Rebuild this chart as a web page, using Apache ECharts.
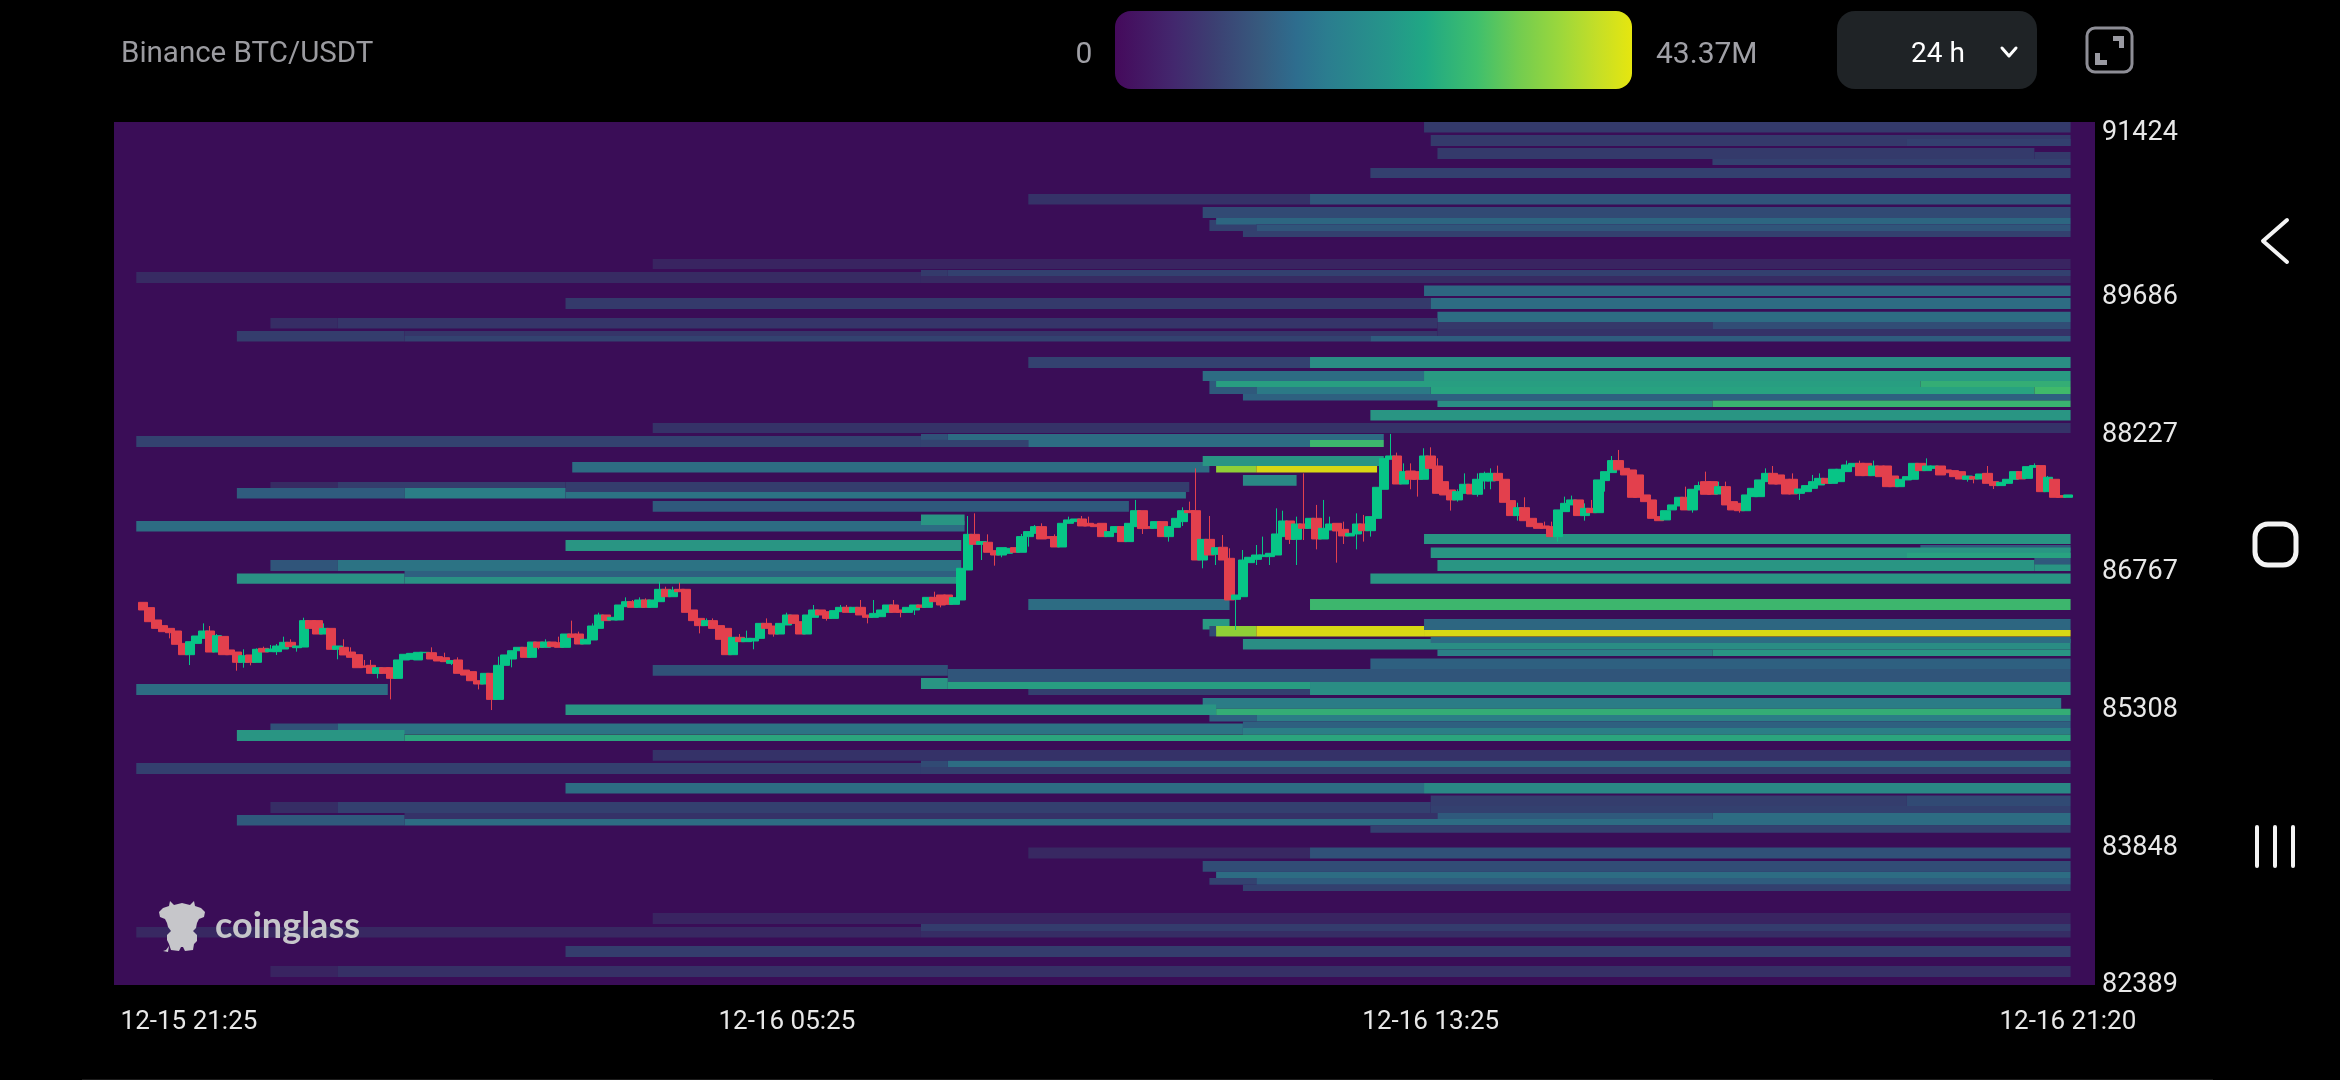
<!DOCTYPE html>
<html>
<head>
<meta charset="utf-8">
<title>Binance BTC/USDT</title>
<style>
html,body{margin:0;padding:0;background:#000;}
#chart{width:2340px;height:1080px;}
</style>
<script src="https://cdn.jsdelivr.net/npm/echarts@6/dist/echarts.min.js"></script>
</head>
<body>
<div id="chart"></div>
<script>
var exchangeName = 'Binance BTC/USDT';
var heatMin = 0, heatMax = 43.37;
var heatMaxLabel = '43.37M';
var rangeLabel = '24 h';
var priceTicks = [82389, 83848, 85308, 86767, 88227, 89686, 91424];
var timeTicks = [0, 96, 192, 287];
var timeLabels = ['12-15 21:25', '12-16 05:25', '12-16 13:25', '12-16 21:20'];
var heatColors = ['#430a5b','#372a63','#33406f','#2e6080','#2b7b86','#2a9084','#28a280','#42bb68','#78c944','#b0d825','#e2d810'];
var barOffsets = [0, 0.115, 0.19, 0.28, 0.35, 0.41, 0.53, 0.6, 0.7, 0.78, 0.86, 0.93, 1];
var barColors = ['#450a5c','#43286e','#3c3f72','#375a7e','#2e6d8e','#2b7d8f','#25968a','#20a884','#3fbf6d','#72cc50','#9bd73c','#c3de28','#e6e60f'];
var E = 287.4; // last candle edge

// price top, price bottom, from candle, to candle, liquidation (M)
var heatLevels = [
	[91509,91398,191,E,7.4],[91371,91255,192,E,7.4],[91329,91255,263,E,8.7],[91233,91117,193,282,7.4],[91190,91117,282,E,7.4],
	[91117,91053,234,E,8.7],[91021,90915,183,E,8.7],
	[90746,90634,132,174,6],[90746,90634,174,E,11.5],[90608,90491,158,E,10],[90470,90353,159,166,8.7],[90491,90422,160,E,14],
	[90422,90353,166,E,11.5],[90353,90290,164,E,8.7],
	[90056,89950,76,E,3.5],[89918,89802,-1,116,4.5],[89876,89802,116,E,4.5],[89940,89876,116,120,7.4],[89940,89876,120,E,8.7],
	[89775,89664,191,E,14],[89643,89526,63,192,7.4],[89643,89526,192,E,15],[89498,89388,193,E,15],
	[89431,89319,19,29,5],[89431,89319,29,193,6.5],[89388,89314,193,234,7],[89388,89314,234,E,10.5],[89314,89240,193,E,6],
	[89293,89180,14,39,8],[89293,89240,39,193,6.5],[89240,89180,39,183,9],[89240,89180,183,E,12.5],
	[89017,88900,132,174,9],[89017,88900,174,E,21],[88869,88762,158,191,15],[88869,88762,191,E,24],
	[88762,88625,159,166,12],[88762,88699,160,265,25],[88762,88699,265,E,28],[88699,88625,166,192,17],[88699,88625,192,282,26],[88699,88625,282,E,30],
	[88625,88556,164,E,13],[88556,88487,193,234,21],[88556,88487,234,E,29],[88455,88344,183,E,23],
	[88317,88211,76,E,6],[88179,88063,-1,116,9],[88137,88063,116,132,9],[88200,88137,116,120,11],[88200,88137,120,185,15],
	[88137,88063,132,174,15],[88137,88063,174,185,29.5],
	[87904,87792,64,159,15],[87967,87861,158,185,23],[87861,87792,160,166,36.5],[87861,87792,166,184,42.5],[87766,87652,164,172,20],
	[87691,87628,19,29,4.5],[87691,87628,29,63,8],[87691,87585,63,156,8],[87628,87515,14,39,12.5],[87628,87515,39,63,18],[87585,87515,63,155.5,16],
	[87490,87376,76,147,12],[87278,87166,-1,122.5,15],[87347,87236,116,122.5,23],
	[87140,87034,191,E,23],[87023,86959,265,E,12],[87076,86959,63,122,23],[86996,86885,192,E,23],[86940,86885,263,E,26],
	[86885,86820,282,E,12],[86864,86748,193,282,23],[86820,86748,282,E,23],
	[86864,86748,19,29,11.5],[86864,86748,29,122,16],[86748,86684,39,122,13],[86722,86613,14,39,22],[86684,86613,39,121.5,22],[86722,86613,183,E,23],
	[86451,86334,132,162,15],[86451,86334,174,E,29.5],
	[86239,86127,158,162,24],[86239,86122,191,E,14],[86164,86054,159,160,10],[86164,86054,160,166,36.5],[86164,86054,166,191,42.5],[86122,86054,191,E,42.5],
	[86027,85915,164,E,21],[86047,85984,192,E,15],[85915,85846,193,234,18],[85915,85846,234,E,23],[85820,85708,183,E,13],
	[85751,85637,76,120,11],[85708,85570,120,E,11.5],[85613,85496,116,120,23],[85570,85496,120,174,25],[85570,85496,174,E,21],
	[85549,85433,-1,36.5,15],[85496,85433,132,174,8.7],[85496,85433,174,E,21],
	[85401,85286,158,286,17.5],[85331,85220,63,160,23],[85286,85220,160,E,28],[85220,85151,159,166,13],[85220,85151,166,E,18],
	[85151,85083,164,E,13],[85130,85019,19,29,11],[85130,85019,29,164,16],[85083,85014,164,E,18],[85062,84945,14,39,23],[85014,84945,39,E,26.5],
	[84849,84736,76,E,6],[84736,84669,116,120,10],[84736,84669,120,E,15],[84711,84595,-1,116,8.7],[84669,84595,116,E,8.7],
	[84499,84389,63,191,15],[84499,84389,191,E,20],[84367,84255,192,263,8],[84367,84255,263,E,10],
	[84298,84181,19,29,5],[84298,84181,29,192,8.7],[84255,84181,192,E,8.7],[84181,84117,39,193,6],[84181,84117,193,234,12],[84181,84117,234,E,15],
	[84160,84049,14,39,12],[84117,84049,39,E,15],[84049,83972,183,E,8.7],
	[83815,83699,132,174,4],[83815,83699,174,E,11],[83672,83559,158,E,10.5],[83559,83492,160,E,15],
	[83492,83421,159,166,9],[83492,83421,166,E,12.5],[83421,83354,164,E,8.7],
	[83120,83004,76,E,3.5],[83004,82930,116,E,7.8],[82972,82862,-1,116,4],[82930,82862,116,E,5],[82771,82654,63,E,8],
	[82558,82442,19,29,3.5],[82558,82442,29,E,5.5]
];

// open, close, low, high, one row per 5 min candle
var candles = [
	[86415,86334,86334,86415],[86359,86210,86210,86359],[86228,86139,86139,86228],[86168,86104,86104,86168],[86139,86093,86033,86139],[86111,85970,85970,86111],
	[85980,85860,85860,85980],[85860,85998,85750,85998],[85980,86058,85980,86058],[86033,86111,86033,86192],[86111,85888,85888,86164],[85888,86062,85888,86079],
	[86054,85860,85860,86054],[85910,85860,85860,85910],[85888,85779,85690,85888],[85779,85849,85722,85917],[85857,85779,85747,85857],[85779,85917,85779,85927],
	[85927,85888,85888,85945],[85892,85920,85892,85963],[85892,85952,85857,85973],[85920,85991,85920,86051],[85991,85945,85945,86023],[85934,85952,85892,85952],
	[85941,86221,85941,86252],[86221,86139,86139,86221],[86221,86079,86079,86221],[86079,86139,86079,86192],[86139,85917,85917,86139],[85917,85952,85811,85952],
	[85938,85857,85857,86023],[85888,85832,85832,85938],[85860,85722,85722,85860],[85740,85726,85726,85804],[85747,85662,85662,85804],[85662,85722,85609,85722],
	[85722,85662,85662,85722],[85722,85609,85386,85722],[85609,85804,85609,85804],[85804,85864,85804,85864],[85811,85874,85811,85874],[85804,85885,85804,85885],
	[85881,85885,85881,85885],[85881,85814,85814,85938],[85839,85793,85793,85839],[85828,85786,85786,85881],[85768,85797,85750,85797],[85804,85662,85662,85832],
	[85697,85644,85644,85697],[85680,85584,85584,85680],[85584,85549,85492,85584],[85549,85662,85549,85662],[85662,85386,85273,85662],[85386,85747,85386,85839],
	[85747,85857,85747,85857],[85814,85902,85726,85902],[85902,85938,85902,85938],[85938,85832,85832,85938],[85832,85994,85832,85994],[85994,85938,85917,85994],
	[85938,85994,85938,86023],[85994,85945,85945,85994],[85987,85938,85938,86051],[85938,86079,85938,86079],[86079,86044,86044,86221],[86079,85973,85973,86104],
	[85973,86023,85973,86023],[86016,86164,86016,86192],[86139,86281,86139,86305],[86281,86221,86221,86281],[86228,86256,86228,86256],[86228,86387,86228,86387],
	[86369,86422,86369,86468],[86422,86362,86362,86440],[86362,86440,86362,86468],[86440,86362,86362,86457],[86362,86440,86362,86440],[86422,86553,86422,86634],
	[86553,86475,86475,86581],[86475,86546,86475,86581],[86553,86528,86528,86624],[86553,86309,86309,86553],[86334,86221,86221,86334],[86245,86168,86086,86245],
	[86168,86221,86168,86245],[86221,86139,86139,86245],[86168,86023,86023,86168],[86139,85860,85860,86139],[85860,86044,85860,86044],[86044,85998,85998,86079],
	[85998,86033,85998,86115],[86005,86033,85917,86033],[86033,86192,86033,86192],[86192,86139,86139,86245],[86164,86079,86051,86164],[86079,86192,86079,86192],
	[86175,86281,86175,86305],[86281,86192,86192,86281],[86210,86079,86079,86210],[86079,86281,86079,86281],[86256,86334,86256,86387],[86334,86281,86281,86334],
	[86316,86245,86221,86316],[86245,86327,86245,86327],[86316,86362,86316,86387],[86362,86309,86309,86387],[86309,86362,86309,86362],[86362,86281,86281,86440],
	[86281,86256,86192,86281],[86256,86298,86256,86440],[86263,86334,86263,86334],[86309,86387,86309,86387],[86387,86309,86309,86440],[86334,86309,86256,86334],
	[86309,86362,86309,86362],[86334,86387,86281,86387],[86387,86362,86362,86387],[86362,86468,86362,86468],[86468,86422,86422,86528],[86493,86387,86362,86493],
	[86493,86394,86394,86493],[86394,86465,86394,86465],[86440,86776,86440,86776],[86758,87136,86758,87331],[87136,87030,87030,87359],[87030,87059,86864,87059],
	[87052,86946,86946,87136],[86963,86917,86804,86963],[86917,86995,86893,86995],[86935,86988,86935,86988],[86995,86946,86946,86995],[86946,87112,86946,87140],
	[87112,87165,87006,87165],[87147,87218,87147,87235],[87218,87087,87087,87253],[87112,87094,87094,87112],[87112,87002,87002,87136],[87002,87253,87002,87253],
	[87253,87289,87253,87324],[87271,87299,87271,87299],[87299,87225,87225,87331],[87253,87225,87225,87324],[87243,87218,87218,87243],[87253,87112,87112,87253],
	[87112,87165,87112,87165],[87158,87218,87158,87218],[87218,87059,87059,87218],[87059,87253,87059,87253],[87218,87387,87218,87501],[87387,87197,87140,87387],
	[87218,87200,87200,87218],[87200,87271,87200,87271],[87271,87112,87112,87271],[87112,87218,87059,87218],[87211,87306,87211,87306],[87271,87387,87225,87423],
	[87387,87366,87366,87483],[87387,86864,86864,87836],[86864,87083,86776,87083],[87083,86917,86917,87331],[86924,86995,86811,86995],[86999,86864,86864,87129],
	[86882,86440,86440,86988],[86447,86493,86122,86493],[86475,86864,86475,86970],[86836,86893,86836,86893],[86871,86917,86811,87023],[86900,86917,86900,87112],
	[86900,86935,86811,86935],[86917,87140,86917,87412],[87112,87278,87112,87387],[87278,87083,87034,87278],[87083,87246,86811,87324],[87246,87200,87076,87783],
	[87200,87306,87200,87306],[87306,87087,86977,87448],[87087,87200,87087,87501],[87182,87246,87182,87324],[87253,87172,86836,87253],[87189,87119,87034,87271],
	[87119,87147,87119,87147],[87140,87246,86977,87359],[87246,87175,87059,87342],[87175,87324,87112,87324],[87306,87635,87306,87635],[87614,87942,87614,87942],
	[87932,87967,87932,88201],[87967,87670,87670,88003],[87670,87801,87670,87889],[87808,87720,87614,87889],[87801,87720,87536,87801],[87720,87967,87720,88049],
	[87967,87836,87836,88059],[87861,87571,87571,87943],[87695,87554,87554,87695],[87607,87501,87388,87607],[87501,87589,87483,87614],[87571,87667,87571,87783],
	[87667,87564,87564,87667],[87561,87720,87536,87783],[87702,87783,87614,87801],[87702,87783,87614,87836],[87783,87706,87706,87865],[87720,87476,87476,87720],
	[87494,87335,87335,87494],[87335,87419,87281,87472],[87419,87281,87281,87529],[87306,87218,87218,87306],[87253,87200,87200,87253],[87225,87200,87200,87271],
	[87218,87112,87112,87271],[87112,87395,87059,87395],[87377,87465,87377,87536],[87448,87501,87448,87547],[87501,87335,87335,87501],[87335,87412,87281,87465],
	[87412,87366,87366,87501],[87366,87713,87366,87713],[87706,87801,87589,87801],[87791,87918,87791,87967],[87918,87820,87820,88031],[87836,87766,87766,87836],
	[87819,87529,87529,87819],[87766,87529,87529,87766],[87554,87483,87483,87554],[87501,87306,87306,87501],[87324,87281,87281,87324],[87289,87387,87289,87387],
	[87395,87448,87395,87448],[87437,87529,87437,87529],[87529,87395,87395,87642],[87395,87614,87366,87614],[87607,87653,87607,87695],[87695,87561,87561,87801],
	[87695,87561,87561,87695],[87564,87642,87564,87695],[87642,87448,87448,87695],[87483,87395,87395,87483],[87465,87387,87366,87465],[87387,87554,87387,87554],
	[87536,87624,87536,87624],[87536,87713,87536,87713],[87695,87783,87695,87836],[87783,87670,87670,87861],[87766,87670,87670,87766],[87720,87564,87564,87720],
	[87720,87564,87564,87783],[87571,87617,87501,87617],[87589,87653,87589,87653],[87624,87695,87624,87766],[87660,87730,87660,87783],[87730,87677,87677,87730],
	[87677,87826,87677,87826],[87695,87826,87695,87826],[87801,87872,87801,87918],[87854,87889,87854,87889],[87889,87759,87759,87918],[87889,87759,87759,87889],
	[87759,87861,87759,87918],[87861,87748,87748,87861],[87861,87642,87642,87861],[87755,87642,87642,87755],[87642,87720,87642,87720],[87713,87748,87713,87748],
	[87720,87889,87720,87889],[87889,87812,87812,87889],[87812,87861,87812,87942],[87836,87861,87836,87861],[87861,87766,87766,87861],[87819,87790,87790,87819],
	[87812,87748,87748,87812],[87801,87723,87723,87801],[87720,87755,87695,87755],[87748,87723,87677,87748],[87723,87776,87723,87776],[87783,87677,87677,87861],
	[87695,87653,87617,87695],[87653,87688,87653,87688],[87677,87720,87677,87720],[87720,87801,87720,87801],[87801,87723,87723,87801],[87730,87854,87730,87854],
	[87847,87865,87847,87889],[87865,87589,87589,87865],[87589,87741,87589,87755],[87720,87529,87529,87720],[87547,87529,87529,87547],[87529,87554,87529,87554]
];

var chart = echarts.init(document.getElementById('chart'));
var labelFont = 'Roboto';

var barStops = barColors.map(function(c, i){
	return {offset: barOffsets[i], color: c};
});

function headerText(x, y, text, color, size, align){
	return {
		type: 'text', x: x, y: y, silent: true,
		style: {text: text, fill: color, fontFamily: labelFont, fontSize: size, align: align || 'left', verticalAlign: 'middle'}
	};
}
function strokeLine(points, color, width){
	return {type: 'polyline', silent: true, shape: {points: points}, style: {stroke: color, lineWidth: width, fill: null, lineCap: 'round', lineJoin: 'round'}};
}

var graphicItems = [
	headerText(121, 55, exchangeName, '#9b9ba0', 29.5),
	headerText(1084, 55, String(heatMin), '#a0a0a6', 30, 'center'),
	{type: 'rect', silent: true, shape: {x: 1115, y: 11, width: 517, height: 78, r: 16},
		style: {fill: {type: 'linear', x: 0, y: 0, x2: 1, y2: 0, colorStops: barStops}}},
	headerText(1656, 55, heatMaxLabel, '#a0a0a6', 30),
	{type: 'rect', silent: true, shape: {x: 1837, y: 11, width: 200, height: 78, r: 18}, style: {fill: '#1f2326'}},
	headerText(1911, 55, rangeLabel, '#ffffff', 28),
	strokeLine([[2002, 48], [2009, 56], [2016, 48]], '#ffffff', 3),
	// fullscreen button
	{type: 'rect', silent: true, shape: {x: 2087, y: 28, width: 45, height: 44, r: 8}, style: {fill: null, stroke: '#8e8e96', lineWidth: 3}},
	{type: 'polygon', silent: true, shape: {points: [[2113, 36], [2124, 36], [2124, 48], [2119, 48], [2119, 41], [2113, 41]]}, style: {fill: '#9a9aa2'}},
	{type: 'polygon', silent: true, shape: {points: [[2095, 53], [2100, 53], [2100, 60], [2107, 60], [2107, 65], [2095, 65]]}, style: {fill: '#9a9aa2'}},
	// phone nav buttons
	strokeLine([[2287, 220], [2263, 241], [2287, 262]], '#f4f4f4', 4),
	{type: 'rect', silent: true, shape: {x: 2255, y: 524, width: 41, height: 41, r: 13}, style: {fill: null, stroke: '#f4f4f4', lineWidth: 5}},
	strokeLine([[2257, 827], [2257, 866]], '#f4f4f4', 4),
	strokeLine([[2275, 827], [2275, 866]], '#f4f4f4', 4),
	strokeLine([[2293, 827], [2293, 866]], '#f4f4f4', 4),
	{type: 'rect', silent: true, shape: {x: 82, y: 1079, width: 2131, height: 1}, style: {fill: '#1c1c1c'}},
	// watermark
	{type: 'polygon', silent: true, z: 10,
		shape: {
			points: [[169,906],[170,901],[174,905],[182,903],[190,905],[194,901],[195,906],[201,908],[205,912],[204,917],[199,919],[197,923],[196,928],[193,931],
				[197,935],[197,941],[194,944],[193,950],[185,951],[183,947],[181,947],[179,951],[171,950],[169,944],[167,940],[167,935],[171,931],[168,927],[167,923],[165,919],[160,917],[159,912],[163,908]]
		},
		style: {fill: '#c6c6ca'}},
	{type: 'polygon', silent: true, z: 10, shape: {points: [[169, 946], [166, 950], [163, 951], [168, 952]]}, style: {fill: '#c6c6ca'}},
	{type: 'text', silent: true, z: 10, x: 215, y: 926,
		style: {text: 'coinglass', fill: '#c6c6ca', fontFamily: 'Lato', fontWeight: 'bold', fontSize: 36, align: 'left', verticalAlign: 'middle'}}
];

var option = {
	backgroundColor: '#000',
	animation: false,
	grid: {left: 114, top: 122, right: 245, bottom: 95, show: true, backgroundColor: '#3a0d57', borderWidth: 0},
	xAxis: {
		type: 'value', min: -4.32, max: 291.04,
		axisLine: {show: false}, axisTick: {show: false}, splitLine: {show: false},
		axisLabel: {
			customValues: timeTicks, margin: 24, color: '#e8e8e8', fontFamily: labelFont, fontSize: 26,
			formatter: function(v){
				var t = timeLabels[timeTicks.indexOf(v)];
				return v === timeTicks[0] ? '{first|' + t + '}' : t;
			},
			rich: {first: {color: '#e8e8e8', fontFamily: labelFont, fontSize: 26, padding: [0, 0, 0, 92]}}
		}
	},
	yAxis: {
		type: 'value', position: 'right', min: 82357, max: 91509,
		axisLine: {show: false}, axisTick: {show: false}, splitLine: {show: false},
		axisLabel: {
			customValues: priceTicks, margin: 7,
			formatter: function(v){ return '{p|' + v + '}'; },
			rich: {p: {color: '#e8e8e8', fontFamily: labelFont, fontSize: 27, padding: [7, 0, 0, 0]}}
		}
	},
	visualMap: {show: false, type: 'continuous', seriesIndex: 0, dimension: 4, min: heatMin, max: heatMax, inRange: {color: heatColors}},
	graphic: graphicItems,
	series: [
		{
			type: 'custom', z: 1, silent: true,
			encode: {x: [2, 3], y: [0, 1]},
			data: heatLevels,
			renderItem: function(params, api){
				var a = api.coord([api.value(2), api.value(0)]);
				var b = api.coord([api.value(3), api.value(1)]);
				return {
					type: 'rect',
					shape: {x: a[0], y: a[1], width: b[0] - a[0], height: b[1] - a[1]},
					style: {fill: api.visual('color')}
				};
			}
		},
		{
			type: 'candlestick', z: 2, silent: true, barWidth: 10,
			itemStyle: {color: '#07c586', color0: '#e3404d', borderColor: '#07c586', borderColor0: '#e3404d', borderWidth: 1},
			data: candles.map(function(c, i){ return [i, c[0], c[1], c[2], c[3]]; })
		}
	]
};
chart.setOption(option);
</script>
</body>
</html>
